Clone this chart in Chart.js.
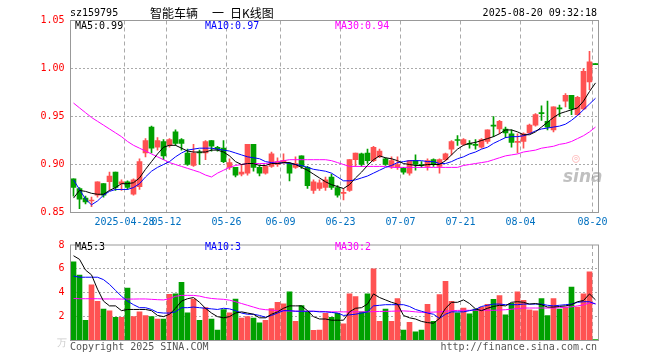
<!DOCTYPE html>
<html>
<head>
<meta charset="utf-8">
<script src="https://cdn.jsdelivr.net/npm/chart.js@4.4.1/dist/chart.umd.min.js"></script>
<style>
body{margin:0;background:#fff;width:660px;height:360px;overflow:hidden;position:relative;font-family:"DejaVu Sans Mono",monospace;font-size:10px;color:#000}
canvas{position:absolute;left:0}
.t{position:absolute;white-space:pre;line-height:12px}
.cn{font-family:"Noto Sans CJK SC",sans-serif;font-size:12px;line-height:14px}
</style>
</head>
<body>
<canvas id="kChart" width="660" height="233" style="top:0"></canvas>
<canvas id="volChart" width="660" height="127" style="top:233px"></canvas>

<div class="t" style="left:70px;top:7px">sz159795</div>
<div class="t cn" style="left:150px;top:6px">智能车辆</div>
<div class="t cn" style="left:212px;top:6px">一</div>
<div class="t cn" style="left:230px;top:6px">日K线图</div>
<div class="t" style="right:63px;top:7px">2025-08-20 09:32:18</div>

<div class="t" style="left:75px;top:20px">MA5:0.99</div>
<div class="t" style="left:205px;top:20px;color:#0000ff">MA10:0.97</div>
<div class="t" style="left:335px;top:20px;color:#ff00ff">MA30:0.94</div>

<div class="t" style="left:75px;top:241px">MA5:3</div>
<div class="t" style="left:205px;top:241px;color:#0000ff">MA10:3</div>
<div class="t" style="left:335px;top:241px;color:#ff00ff">MA30:2</div>

<div class="t" style="left:57px;top:337px;color:#ccc">万</div>
<div class="t" style="left:572px;top:152px;font-size:13px;color:rgba(255,110,110,0.45)">◎</div>
<div class="t" style="left:563px;top:166px;font:italic bold 17px 'DejaVu Sans',sans-serif;color:rgba(140,140,140,0.55)">sina</div>

<div class="t" style="left:70px;top:341px;color:#555">Copyright 2025 SINA.COM</div>
<div class="t" style="right:63px;top:341px;color:#555">http://finance.sina.com.cn</div>

<script>
const dates = [
  '04-15','04-16','04-17','04-18','04-21','04-22','04-23','04-24','04-25','04-28',
  '04-29','04-30','05-06','05-07','05-08','05-09','05-12','05-13','05-14','05-15',
  '05-16','05-19','05-20','05-21','05-22','05-23','05-26','05-27','05-28','05-29',
  '05-30','06-03','06-04','06-05','06-06','06-09','06-10','06-11','06-12','06-13',
  '06-16','06-17','06-18','06-19','06-20','06-23','06-24','06-25','06-26','06-27',
  '06-30','07-01','07-02','07-03','07-04','07-07','07-08','07-09','07-10','07-11',
  '07-14','07-15','07-16','07-17','07-18','07-21','07-22','07-23','07-24','07-25',
  '07-28','07-29','07-30','07-31','08-01','08-04','08-05','08-06','08-07','08-08',
  '08-11','08-12','08-13','08-14','08-15','08-18','08-19','08-20'
];
const tickDates = ['04-28','05-12','05-26','06-09','06-23','07-07','07-21','08-04','08-20'];
const xTickLabels = ['2025-04-28','05-12','05-26','06-09','06-23','07-07','07-21','08-04','08-20'];

const open = [
  0.885,0.875,0.865,0.862,0.868,0.880,0.882,0.892,0.880,0.882,
  0.869,0.877,0.912,0.939,0.918,0.924,0.920,0.934,0.926,0.912,
  0.899,0.913,0.912,0.925,0.918,0.917,0.897,0.897,0.890,0.891,
  0.921,0.897,0.891,0.898,0.900,0.903,0.901,0.897,0.909,0.897,
  0.873,0.875,0.876,0.887,0.876,0.870,0.873,0.905,0.911,0.912,
  0.904,0.908,0.906,0.898,0.897,0.896,0.891,0.904,0.900,0.898,
  0.905,0.898,0.905,0.916,0.926,0.921,0.922,0.921,0.918,0.924,
  0.941,0.937,0.937,0.932,0.923,0.924,0.933,0.941,0.954,0.945,
  0.936,0.959,0.966,0.972,0.952,0.958,0.986,1.005
];
const high = [
  0.885,0.876,0.867,0.866,0.882,0.880,0.892,0.892,0.884,0.883,
  0.885,0.906,0.927,0.940,0.928,0.926,0.927,0.936,0.927,0.916,
  0.921,0.915,0.925,0.925,0.919,0.925,0.906,0.897,0.900,0.921,
  0.921,0.899,0.899,0.913,0.907,0.911,0.902,0.908,0.909,0.898,
  0.884,0.884,0.887,0.890,0.878,0.875,0.905,0.912,0.912,0.916,
  0.919,0.916,0.907,0.908,0.908,0.897,0.904,0.910,0.903,0.906,
  0.906,0.906,0.912,0.925,0.930,0.927,0.925,0.926,0.927,0.936,
  0.950,0.946,0.939,0.936,0.932,0.933,0.942,0.953,0.961,0.966,
  0.960,0.962,0.974,0.972,0.971,1.000,1.018,1.005
];
const low = [
  0.867,0.854,0.859,0.856,0.866,0.866,0.873,0.873,0.873,0.874,
  0.868,0.874,0.908,0.912,0.915,0.905,0.918,0.920,0.915,0.899,
  0.898,0.900,0.905,0.914,0.914,0.902,0.895,0.887,0.888,0.889,
  0.893,0.888,0.890,0.897,0.898,0.901,0.883,0.896,0.896,0.875,
  0.870,0.873,0.873,0.874,0.866,0.863,0.872,0.898,0.898,0.901,
  0.903,0.907,0.899,0.896,0.895,0.890,0.889,0.894,0.897,0.894,
  0.898,0.891,0.904,0.910,0.920,0.920,0.917,0.916,0.917,0.922,
  0.929,0.932,0.928,0.918,0.912,0.917,0.932,0.940,0.946,0.936,
  0.934,0.950,0.960,0.952,0.951,0.957,0.978,1.004
];
const close = [
  0.876,0.864,0.861,0.863,0.882,0.868,0.888,0.876,0.882,0.876,
  0.884,0.903,0.925,0.917,0.925,0.909,0.926,0.922,0.922,0.900,
  0.912,0.912,0.924,0.919,0.916,0.903,0.902,0.889,0.892,0.921,
  0.897,0.891,0.898,0.911,0.903,0.904,0.891,0.901,0.898,0.878,
  0.882,0.881,0.884,0.876,0.868,0.871,0.905,0.912,0.900,0.904,
  0.918,0.914,0.900,0.904,0.900,0.892,0.904,0.900,0.899,0.904,
  0.900,0.905,0.911,0.924,0.925,0.926,0.921,0.920,0.926,0.936,
  0.940,0.945,0.933,0.923,0.924,0.932,0.941,0.952,0.953,0.939,
  0.960,0.958,0.972,0.958,0.970,0.997,1.007,1.004
];
const ma5 = [
  0.865,0.873,0.872,0.870,0.869,0.869,0.873,0.876,0.880,0.880,
  0.881,0.886,0.895,0.903,0.911,0.918,0.920,0.920,0.917,0.914,
  0.913,0.913,0.913,0.915,0.915,0.913,0.909,0.903,0.900,0.901,
  0.901,0.899,0.899,0.901,0.901,0.902,0.902,0.900,0.897,0.894,
  0.890,0.886,0.882,0.879,0.877,0.875,0.879,0.886,0.892,0.899,
  0.905,0.909,0.907,0.906,0.904,0.901,0.900,0.899,0.899,0.900,
  0.900,0.900,0.904,0.910,0.916,0.920,0.922,0.923,0.925,0.927,
  0.929,0.932,0.936,0.936,0.934,0.931,0.931,0.934,0.939,0.944,
  0.949,0.953,0.955,0.957,0.959,0.966,0.976,0.985
];
const ma10 = [
  0.884,0.874,0.864,0.858,0.862,0.868,0.872,0.874,0.874,0.874,
  0.876,0.880,0.887,0.893,0.897,0.900,0.903,0.908,0.912,0.915,
  0.916,0.917,0.917,0.917,0.916,0.915,0.914,0.912,0.910,0.908,
  0.907,0.906,0.903,0.902,0.901,0.902,0.901,0.900,0.899,0.897,
  0.895,0.894,0.893,0.891,0.887,0.883,0.883,0.884,0.886,0.888,
  0.891,0.894,0.897,0.899,0.902,0.903,0.904,0.904,0.904,0.903,
  0.903,0.901,0.901,0.903,0.906,0.908,0.911,0.913,0.916,0.918,
  0.922,0.925,0.928,0.929,0.929,0.930,0.932,0.935,0.937,0.938,
  0.939,0.940,0.942,0.946,0.951,0.957,0.963,0.969
];
const ma30 = [
  0.964,0.959,0.954,0.949,0.945,0.941,0.937,0.933,0.929,0.924,
  0.920,0.917,0.914,0.911,0.908,0.905,0.902,0.900,0.898,0.896,
  0.894,0.892,0.889,0.887,0.891,0.894,0.897,0.899,0.900,0.901,
  0.901,0.901,0.901,0.902,0.903,0.904,0.905,0.905,0.905,0.905,
  0.905,0.905,0.905,0.904,0.902,0.900,0.898,0.898,0.898,0.898,
  0.898,0.898,0.898,0.897,0.897,0.897,0.897,0.897,0.897,0.897,
  0.897,0.897,0.897,0.897,0.897,0.899,0.900,0.901,0.902,0.903,
  0.905,0.907,0.909,0.910,0.911,0.913,0.914,0.915,0.917,0.918,
  0.919,0.921,0.922,0.924,0.927,0.930,0.934,0.939
];
const volume = [
  6.59,5.47,1.68,4.67,3.28,2.64,2.48,1.95,1.95,4.40,
  2.00,2.40,2.08,2.00,1.79,1.79,3.87,3.92,4.88,2.32,
  3.47,1.68,2.75,1.79,0.88,2.59,2.32,3.47,1.87,2.00,
  1.87,1.47,1.68,2.67,3.20,3.07,4.08,1.60,2.93,2.40,
  0.85,0.88,2.27,1.95,2.27,1.39,3.92,3.68,2.40,3.92,
  6.00,1.60,2.64,1.60,3.52,0.88,1.52,0.72,0.88,3.04,
  1.60,3.84,4.96,3.28,2.32,2.72,2.24,2.64,2.80,3.04,
  3.44,3.76,2.16,3.12,4.08,3.36,2.56,2.48,3.52,2.08,
  3.52,2.64,2.80,4.48,2.80,3.92,5.76,0.08
];
const volMa5 = [
  7.1,6.8,5.9,5.5,4.3,3.3,2.9,2.9,2.5,2.6,
  2.6,2.6,2.6,2.5,2.1,2.0,2.2,2.7,3.3,3.5,
  3.6,3.2,2.7,2.3,2.0,1.9,2.0,2.3,2.4,2.3,
  2.2,1.9,1.9,2.2,2.4,2.7,2.9,2.9,2.9,2.5,
  2.0,1.8,1.8,1.7,1.7,1.7,2.4,2.7,2.75,3.05,
  3.9,3.6,3.4,3.2,3.05,2.1,1.9,1.8,1.6,1.5,
  1.45,1.85,2.7,3.2,3.2,3.4,3.1,2.65,2.5,2.7,
  2.85,2.95,2.9,3.2,3.25,3.2,3.05,3.1,3.0,2.8,
  2.8,2.85,2.9,3.0,3.25,3.35,3.9,3.4
];
const volMa10 = [
  5.4,5.3,5.3,5.3,5.3,5.1,4.7,4.2,3.7,3.3,
  3.0,2.75,2.75,2.6,2.35,2.3,2.3,2.4,2.75,2.75,
  2.8,2.75,2.7,2.65,2.6,2.7,2.65,2.5,2.3,2.2,
  2.2,2.1,1.95,2.1,2.3,2.5,2.5,2.45,2.45,2.45,
  2.45,2.4,2.4,2.35,2.3,2.1,2.15,2.2,2.3,2.4,
  2.9,2.95,3.0,3.0,3.0,3.0,2.85,2.6,2.45,2.3,
  2.2,1.85,2.2,2.4,2.4,2.4,2.5,2.6,2.85,2.95,
  3.05,3.05,3.0,3.0,3.0,3.05,3.05,3.05,3.05,2.95,
  2.9,2.95,3.0,3.05,3.2,3.25,3.25,3.05
];
const volMa30 = [
  3.52,3.5,3.5,3.5,3.5,3.48,3.48,3.48,3.47,3.47,
  3.47,3.48,3.48,3.45,3.42,3.4,3.5,3.7,3.78,3.78,
  3.78,3.72,3.6,3.52,3.48,3.45,3.38,3.25,3.1,2.95,
  2.8,2.65,2.58,2.55,2.5,2.48,2.47,2.46,2.45,2.45,
  2.45,2.44,2.42,2.4,2.4,2.4,2.4,2.4,2.4,2.4,
  2.42,2.43,2.44,2.45,2.47,2.48,2.45,2.4,2.36,2.36,
  2.38,2.4,2.45,2.5,2.52,2.53,2.53,2.54,2.54,2.54,
  2.53,2.55,2.58,2.62,2.68,2.72,2.72,2.72,2.72,2.72,
  2.72,2.75,2.78,2.82,2.9,2.98,3.15,3.1
];

const RED = '#ff5252';
const GREEN = '#00a000';
const colores = close.map((c, i) => c >= open[i] ? RED : GREEN);
const monoFont = { family: 'DejaVu Sans Mono', size: 10 };

// marco gris alrededor del area de dibujo
const marco = {
  id: 'marco',
  afterDraw(chart) {
    const { ctx, chartArea: a } = chart;
    ctx.save();
    ctx.strokeStyle = '#999';
    ctx.lineWidth = 1;
    ctx.strokeRect(a.left, a.top, a.right - a.left, a.bottom - a.top);
    ctx.restore();
  }
};

function ejeX(showLabels) {
  return {
    type: 'category',
    offset: true,
    grid: {
      offset: true,
      drawTicks: false,
      color: c => tickDates.includes(dates[c.index]) ? '#aaa' : 'transparent'
    },
    border: { display: false, dash: [4, 3] },
    ticks: {
      display: showLabels,
      autoSkip: false,
      maxRotation: 0,
      minRotation: 0,
      padding: 4,
      labelOffset: -3,
      color: '#0070c0',
      font: monoFont,
      callback: (v, i) => {
        const k = tickDates.indexOf(dates[i]);
        return k < 0 ? '' : xTickLabels[k];
      }
    },
    afterFit: s => { s.height = showLabels ? 20.5 : 0; }
  };
}

function linea(data, color, order) {
  return { type: 'line', data, borderColor: color, borderWidth: 1, pointRadius: 0, tension: 0, order };
}

new Chart(document.getElementById('kChart'), {
  type: 'bar',
  data: {
    labels: dates,
    datasets: [
      { data: low.map((l, i) => [l, high[i]]), backgroundColor: colores, barThickness: 1, minBarLength: 1, grouped: false, order: 4 },
      { data: open.map((o, i) => [o, close[i]]), backgroundColor: colores, barThickness: 5, minBarLength: 1, grouped: false, order: 3 },
      linea(ma30, '#ff00ff', 2),
      linea(ma10, '#0000ff', 1),
      linea(ma5, '#000000', 0)
    ]
  },
  options: {
    responsive: false,
    animation: false,
    events: [],
    layout: { padding: { top: 20.5, right: 61.5, left: 0, bottom: 0 } },
    plugins: { legend: { display: false }, tooltip: { enabled: false } },
    scales: {
      x: ejeX(true),
      y: {
        min: 0.85,
        max: 1.05,
        grid: { drawTicks: false, color: c => (c.tick.value > 0.86 && c.tick.value < 1.04) ? '#aaa' : 'transparent' },
        border: { display: false, dash: [2, 2] },
        ticks: { stepSize: 0.05, padding: 6, color: '#ff0000', font: monoFont, callback: v => v.toFixed(2) },
        afterFit: s => { s.width = 70.5; }
      }
    }
  },
  plugins: [marco]
});

new Chart(document.getElementById('volChart'), {
  type: 'bar',
  data: {
    labels: dates,
    datasets: [
      { data: volume, backgroundColor: colores, barThickness: 5, grouped: false, order: 3 },
      linea(volMa30, '#ff00ff', 2),
      linea(volMa10, '#0000ff', 1),
      linea(volMa5, '#000000', 0)
    ]
  },
  options: {
    responsive: false,
    animation: false,
    events: [],
    layout: { padding: { top: 7.5, right: 61.5, left: 0, bottom: 19.5 } },
    plugins: { legend: { display: false }, tooltip: { enabled: false } },
    scales: {
      x: ejeX(false),
      y: {
        min: 0,
        max: 8,
        grid: { drawTicks: false, color: c => (c.tick.value > 0 && c.tick.value < 8) ? '#aaa' : 'transparent' },
        border: { display: false, dash: [2, 2] },
        ticks: { stepSize: 2, padding: 6, color: '#ff0000', font: monoFont, callback: v => v === 0 ? '' : v },
        afterFit: s => { s.width = 70.5; }
      }
    }
  },
  plugins: [marco]
});
</script>
</body>
</html>
